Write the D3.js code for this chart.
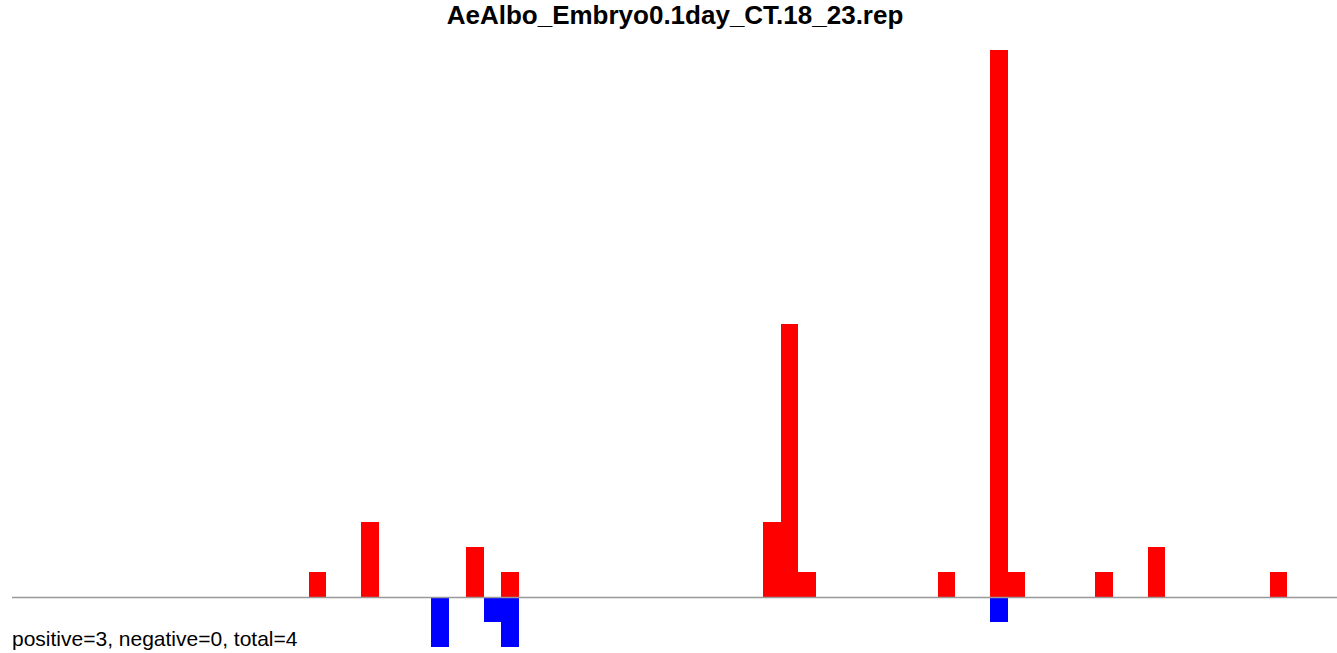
<!DOCTYPE html>
<html><head><meta charset="utf-8">
<script src="https://cdn.jsdelivr.net/npm/d3@7"></script>
<style>body{margin:0;background:#fff}svg{display:block}</style>
</head><body><svg id="c" width="1337" height="653"></svg>
<script>
const title = "AeAlbo_Embryo0.1day_CT.18_23.rep";
const footer = "positive=3, negative=0, total=4";
const nBins = 76;
const posBins = [17, 20, 26, 28, 43, 44, 45, 53, 56, 57, 62, 65, 72];
const posVals = [1, 3, 2, 1, 3, 11, 1, 1, 22, 1, 1, 2, 1];
const negBins = [24, 27, 28, 56];
const negVals = [-2, -1, -2, -1];

const svg = d3.select("#c");
const x = d3.scaleLinear().domain([0, nBins]).range([12, 12 + nBins * 17.47]);
const y = d3.scaleLinear().domain([0, 22]).range([597, 50]);

const pos = posBins.map((b, i) => ({b, v: posVals[i]}));
const neg = negBins.map((b, i) => ({b, v: negVals[i]}));

svg.append("g").selectAll("rect").data(neg).join("rect")
  .attr("x", d => x(d.b)).attr("width", d => x(d.b + 1) - x(d.b))
  .attr("y", y(0)).attr("height", d => y(d.v) - y(0))
  .attr("fill", "#0000ff").attr("shape-rendering", "crispEdges");
svg.append("g").selectAll("rect").data(pos).join("rect")
  .attr("x", d => x(d.b)).attr("width", d => x(d.b + 1) - x(d.b))
  .attr("y", d => y(d.v)).attr("height", d => y(0) - y(d.v))
  .attr("fill", "#ff0000").attr("shape-rendering", "crispEdges");

svg.append("line").attr("x1", 12).attr("x2", 1337).attr("y1", y(0) + 0.5).attr("y2", y(0) + 0.5)
  .attr("stroke", "#999").attr("stroke-width", 1.3);

svg.append("text").attr("x", 675).attr("y", 24).attr("text-anchor", "middle")
  .attr("font-family", "Liberation Sans, Arial, sans-serif").attr("font-weight", "bold")
  .attr("font-size", 26).text(title);
svg.append("text").attr("x", 12).attr("y", 646)
  .attr("font-family", "Liberation Sans, Arial, sans-serif")
  .attr("font-size", 21).text(footer);
</script></body></html>
